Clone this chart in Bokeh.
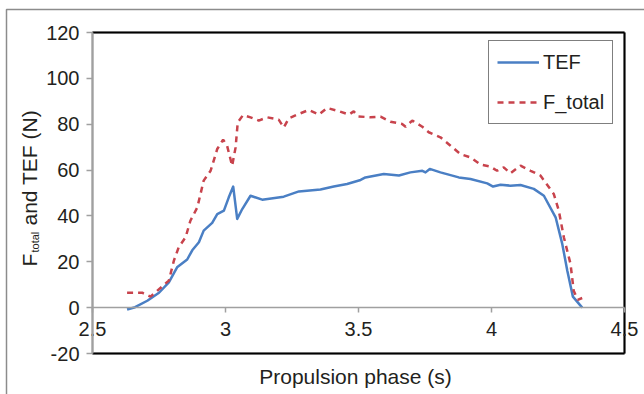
from bokeh.plotting import figure
from bokeh.models import FixedTicker, Legend, LegendItem, Label, Range1d, BoxAnnotation
from bokeh.embed import file_html
from bokeh.resources import INLINE
import math

# ---- data ----
t_tef = [2.63, 2.66, 2.706, 2.75, 2.787, 2.818, 2.856, 2.875, 2.90, 2.918, 2.95, 2.969,
         2.994, 3.012, 3.029, 3.044, 3.063, 3.094, 3.138, 3.219, 3.276, 3.357, 3.407,
         3.457, 3.508, 3.526, 3.595, 3.652, 3.695, 3.74, 3.752, 3.768, 3.808, 3.877,
         3.921, 3.984, 4.006, 4.034, 4.071, 4.109, 4.159, 4.197, 4.241, 4.266, 4.285,
         4.306, 4.341]
tef = [-0.8, 0.2, 3.0, 6.5, 11.0, 17.6, 21.0, 25.0, 28.5, 33.6, 37.0, 40.8,
       42.3, 48.0, 52.8, 38.7, 43.0, 48.8, 47.1, 48.4, 50.7, 51.5, 52.8,
       53.9, 55.7, 56.8, 58.3, 57.6, 59.0, 59.7, 59.0, 60.5, 59.0, 56.8,
       56.1, 54.2, 52.8, 53.6, 53.2, 53.5, 51.8, 48.8, 39.4, 27.8, 16.1,
       4.8, 0.0]

t_ftot = [2.63, 2.687, 2.718, 2.737, 2.787, 2.806, 2.824, 2.85, 2.868, 2.894, 2.918,
          2.944, 2.969, 2.991, 3.006, 3.025, 3.038, 3.046, 3.066, 3.094, 3.125, 3.157,
          3.20, 3.219, 3.238, 3.276, 3.313, 3.351, 3.382, 3.42, 3.464, 3.482, 3.50,
          3.545, 3.583, 3.62, 3.664, 3.677, 3.702, 3.74, 3.764, 3.808, 3.846, 3.883,
          3.921, 3.959, 3.996, 4.021, 4.046, 4.071, 4.109, 4.147, 4.184, 4.234, 4.253,
          4.272, 4.297, 4.309, 4.324, 4.341]
ftot = [6.5, 6.5, 4.8, 6.7, 11.8, 20.5, 26.3, 30.7, 37.9, 43.7, 55.4,
        59.7, 69.2, 73.3, 70.6, 61.9, 69.9, 80.8, 84.0, 83.0, 81.6, 83.0,
        82.0, 78.6, 82.6, 84.5, 86.2, 84.2, 87.1, 85.9, 84.2, 85.6, 83.4,
        83.0, 83.3, 81.1, 80.1, 78.9, 81.6, 78.9, 76.5, 74.3, 70.6, 67.0,
        65.5, 62.4, 61.5, 59.7, 61.2, 58.6, 61.9, 59.7, 57.6, 49.6, 42.3,
        30.7, 19.1, 7.4, 3.4, 4.2]

x_ticks = [2.5, 3, 3.5, 4, 4.5]
x_tick_labels = ["2.5", "3", "3.5", "4", "4.5"]
y_ticks = [-20, 0, 20, 40, 60, 80, 100, 120]
y_tick_labels = ["-20", "0", "20", "40", "60", "80", "100", "120"]

FONT = "Liberation Sans"
TXT = "#231f20"
AXGRAY = "#a0a0a0"

# Plot area (x 2.5..4.5, y -20..120) sits at px 92..624 / 32..353 of the 644x394 canvas;
# the data frame spans the whole canvas so that axes, ticks and titles are not clipped.
XMIN, XMAX, YMIN, YMAX = 2.5, 4.5, -20.0, 120.0
PX_L, PX_R, PX_T, PX_B, W, H = 92, 624, 32, 353, 644, 394
sx = (XMAX - XMIN) / (PX_R - PX_L)
sy = (YMAX - YMIN) / (PX_B - PX_T)
x0, x1 = XMIN - PX_L * sx, XMAX + (W - PX_R) * sx
y1, y0 = YMAX + PX_T * sy, YMIN - (H - PX_B) * sy


def xd(px):
    return x0 + px * sx


def yd(py):
    return y1 - py * sy


p = figure(width=W, height=H, x_range=Range1d(x0, x1), y_range=Range1d(y0, y1),
           output_backend="svg", toolbar_location=None,
           min_border_left=0, min_border_top=0, min_border_right=0, min_border_bottom=0)
p.title.visible = False
p.grid.visible = False
p.outline_line_color = None
p.background_fill_color = "white"
p.border_fill_color = "white"

# outer light-gray border (top and left edges)
p.line([xd(6), xd(6), x1], [y0, yd(9), yd(9)], line_color="#8c8c8c", line_width=1.5)
# black plot-area frame
p.add_layout(BoxAnnotation(left=XMIN, right=XMAX, bottom=YMIN, top=YMAX,
                           fill_alpha=0, line_color="black", line_width=2, level="underlay"))
p.segment(x0=[XMIN, XMIN, XMAX], y0=[YMAX, YMIN, YMIN],
          x1=[XMAX, XMAX, XMAX], y1=[YMAX, YMIN, YMAX],
          line_color="black", line_width=2)

r1 = p.line(t_tef, tef, line_color="#4a7fc4", line_width=2.5, line_join="round")
r2 = p.line(t_ftot, ftot, line_color="#c8434c", line_width=2.5, line_dash="6 5")

# x axis crossing at zero
xa = p.xaxis[0]
xa.fixed_location = 0
xa.bounds = (XMIN, XMAX)
xa.ticker = FixedTicker(ticks=x_ticks)
xa.major_label_overrides = {k: v for k, v in zip(x_ticks, x_tick_labels)}
xa.axis_line_color = AXGRAY
xa.axis_line_width = 1.5
xa.major_tick_line_color = AXGRAY
xa.major_tick_line_width = 1.5
xa.major_tick_out = 5
xa.major_tick_in = 0
xa.minor_tick_line_color = None
xa.major_label_text_font = FONT
xa.major_label_text_font_size = "20px"
xa.major_label_text_color = TXT
xa.major_label_standoff = 9

ya = p.yaxis[0]
ya.fixed_location = XMIN
ya.bounds = (YMIN, YMAX)
ya.ticker = FixedTicker(ticks=y_ticks)
ya.major_label_overrides = {k: v for k, v in zip(y_ticks, y_tick_labels)}
ya.axis_line_color = AXGRAY
ya.axis_line_width = 2
ya.major_tick_line_color = AXGRAY
ya.major_tick_line_width = 1.5
ya.major_tick_out = 6
ya.major_tick_in = 0
ya.minor_tick_line_color = None
ya.major_label_text_font = FONT
ya.major_label_text_font_size = "20px"
ya.major_label_text_color = TXT
ya.major_label_standoff = 7

# axis titles
p.add_layout(Label(x=xd(355), y=yd(376), text="Propulsion phase (s)", text_font=FONT,
                   text_font_size="21px", text_color=TXT, text_align="center",
                   text_baseline="middle"))
p.add_layout(Label(x=xd(29), y=yd(266), text="F", angle=math.pi / 2, text_font=FONT,
                   text_font_size="21px", text_color=TXT, text_align="left",
                   text_baseline="alphabetic"))
p.add_layout(Label(x=xd(34), y=yd(252), text="total", angle=math.pi / 2, text_font=FONT,
                   text_font_size="11px", text_color=TXT, text_align="left",
                   text_baseline="alphabetic"))
p.add_layout(Label(x=xd(29), y=yd(225), text="and TEF (N)", angle=math.pi / 2, text_font=FONT,
                   text_font_size="21px", text_color=TXT, text_align="left",
                   text_baseline="alphabetic"))

legend = Legend(items=[LegendItem(label="TEF", renderers=[r1]),
                       LegendItem(label="F_total", renderers=[r2])],
                location=(488, H - 124))
legend.border_line_color = "black"
legend.border_line_width = 1.5
legend.padding = 8
legend.spacing = 14
legend.margin = 0
legend.glyph_width = 42
legend.glyph_height = 26
legend.label_height = 26
legend.label_standoff = 4
legend.label_text_font = FONT
legend.label_text_font_size = "20px"
legend.label_text_color = TXT
legend.background_fill_alpha = 1
p.add_layout(legend)

open("out.html", "w").write(file_html(p, INLINE))
